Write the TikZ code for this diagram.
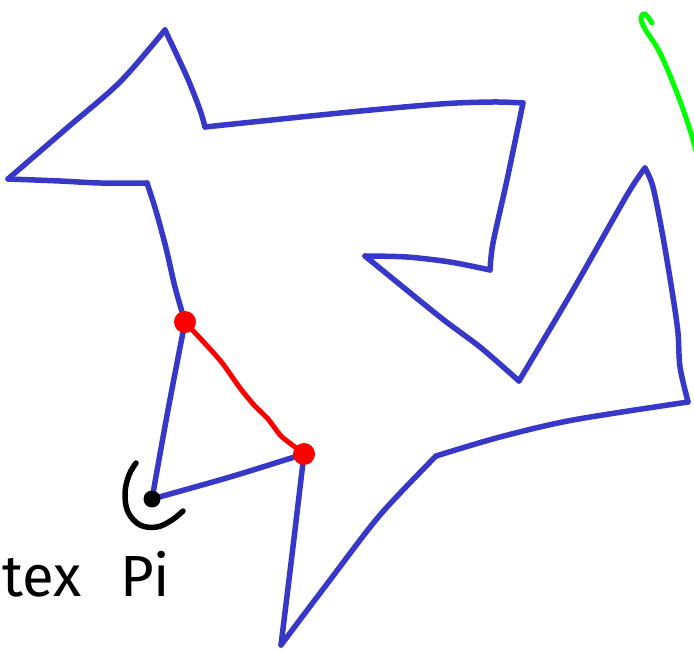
\documentclass[tikz,border=0pt]{standalone}
\usepackage{fontspec}
\setmainfont{Fira Sans}
\definecolor{polyblue}{RGB}{55,55,200}
\definecolor{cutred}{RGB}{255,0,0}
\definecolor{hookgreen}{RGB}{0,255,0}
\begin{document}
\begin{tikzpicture}[x=1pt,y=-1pt,
  edge/.style={draw=polyblue,line width=5.5pt,line cap=round,line join=round},
  diag/.style={draw=cutred,line width=5pt,line cap=round,line join=round},
  ink/.style={draw=black,line width=5.5pt,line cap=round,line join=round},
  lbl/.style={inner sep=0pt,font=\fontsize{58}{58}\selectfont}]
\useasboundingbox (0,0) rectangle (694,652);
\clip (0,0) rectangle (694,652);
% vertices
\coordinate (A) at (152,499);
\coordinate (B) at (185,322);
\coordinate (C) at (147,183);
\coordinate (D) at (8,179);
\coordinate (E) at (165,30);
\coordinate (F) at (205,127);
\coordinate (G) at (523,103);
\coordinate (H) at (490,270);
\coordinate (I) at (365,256);
\coordinate (J) at (519,381);
\coordinate (K) at (645,168);
\coordinate (L) at (688,402);
\coordinate (M) at (436,456);
\coordinate (N) at (281,645);
\coordinate (O) at (304,454);
% polygon edges
\draw[edge] plot[smooth,tension=0.5] coordinates {(A) (168,410) (B)};
\draw[edge] plot[smooth,tension=0.5] coordinates {(B) (175,287) (166,248) (156,211) (C)};
\draw[edge] plot[smooth,tension=0.5] coordinates {(C) (100,183) (60,181) (D)};
\draw[edge] plot[smooth,tension=0.5] coordinates {(D) (67,128) (120,82) (E)};
\draw[edge] plot[smooth,tension=0.5] coordinates {(E) (187,77) (200,110) (F)};
\draw[edge] plot[smooth,tension=0.5] coordinates {(F) (340,113) (440,104) (493,102) (G)};
\draw[edge] plot[smooth,tension=0.5] coordinates {(G) (507,180) (493,243) (H)};
\draw[edge] plot[smooth,tension=0.5] coordinates {(H) (450,262) (407,257) (I)};
\draw[edge] plot[smooth,tension=0.5] coordinates {(I) (440,317) (480,347) (J)};
\draw[edge] plot[smooth,tension=0.5] coordinates {(J) (573,290) (627,195) (K)};
\draw[edge] plot[smooth,tension=0.5] coordinates {(K) (653,187) (663,237) (673,297) (678,333) (680,367) (L)};
\draw[edge] plot[smooth,tension=0.5] coordinates {(L) (573,420) (500,437) (M)};
\draw[edge] plot[smooth,tension=0.5] coordinates {(M) (380,515) (330,580) (N)};
\draw[edge] plot[smooth,tension=0.5] coordinates {(N) (292,555) (O)};
\draw[edge] plot[smooth,tension=0.5] coordinates {(O) (230,477) (A)};
% red diagonal
\draw[diag] plot[smooth,tension=0.4] coordinates {(B) (198,336) (211,350) (223,364) (240,388) (254,405) (268,419) (281,436) (295,447) (O)};
\fill[cutred] (B) circle (11);
\fill[cutred] (O) circle (11);
% black vertex and arc
\fill[black] (A) circle (8.5);
\draw[ink] plot[smooth,tension=0.6] coordinates {(136,463) (129,475) (125,493) (128,512) (140,525) (157,527) (172,520) (183,511)};
% green hook
\draw[draw=hookgreen,line width=5pt,line cap=round,line join=round]
  plot[smooth,tension=0.6] coordinates {(652,23) (645,14) (641,18) (645,29) (660,53) (677,93) (690,130) (700,165)};
% label
\node[lbl,anchor=base west] (t1) at (2,596) {tex};
\node[lbl,anchor=base west] (t2) at (120,596) {Pi};
\end{tikzpicture}
\end{document}
